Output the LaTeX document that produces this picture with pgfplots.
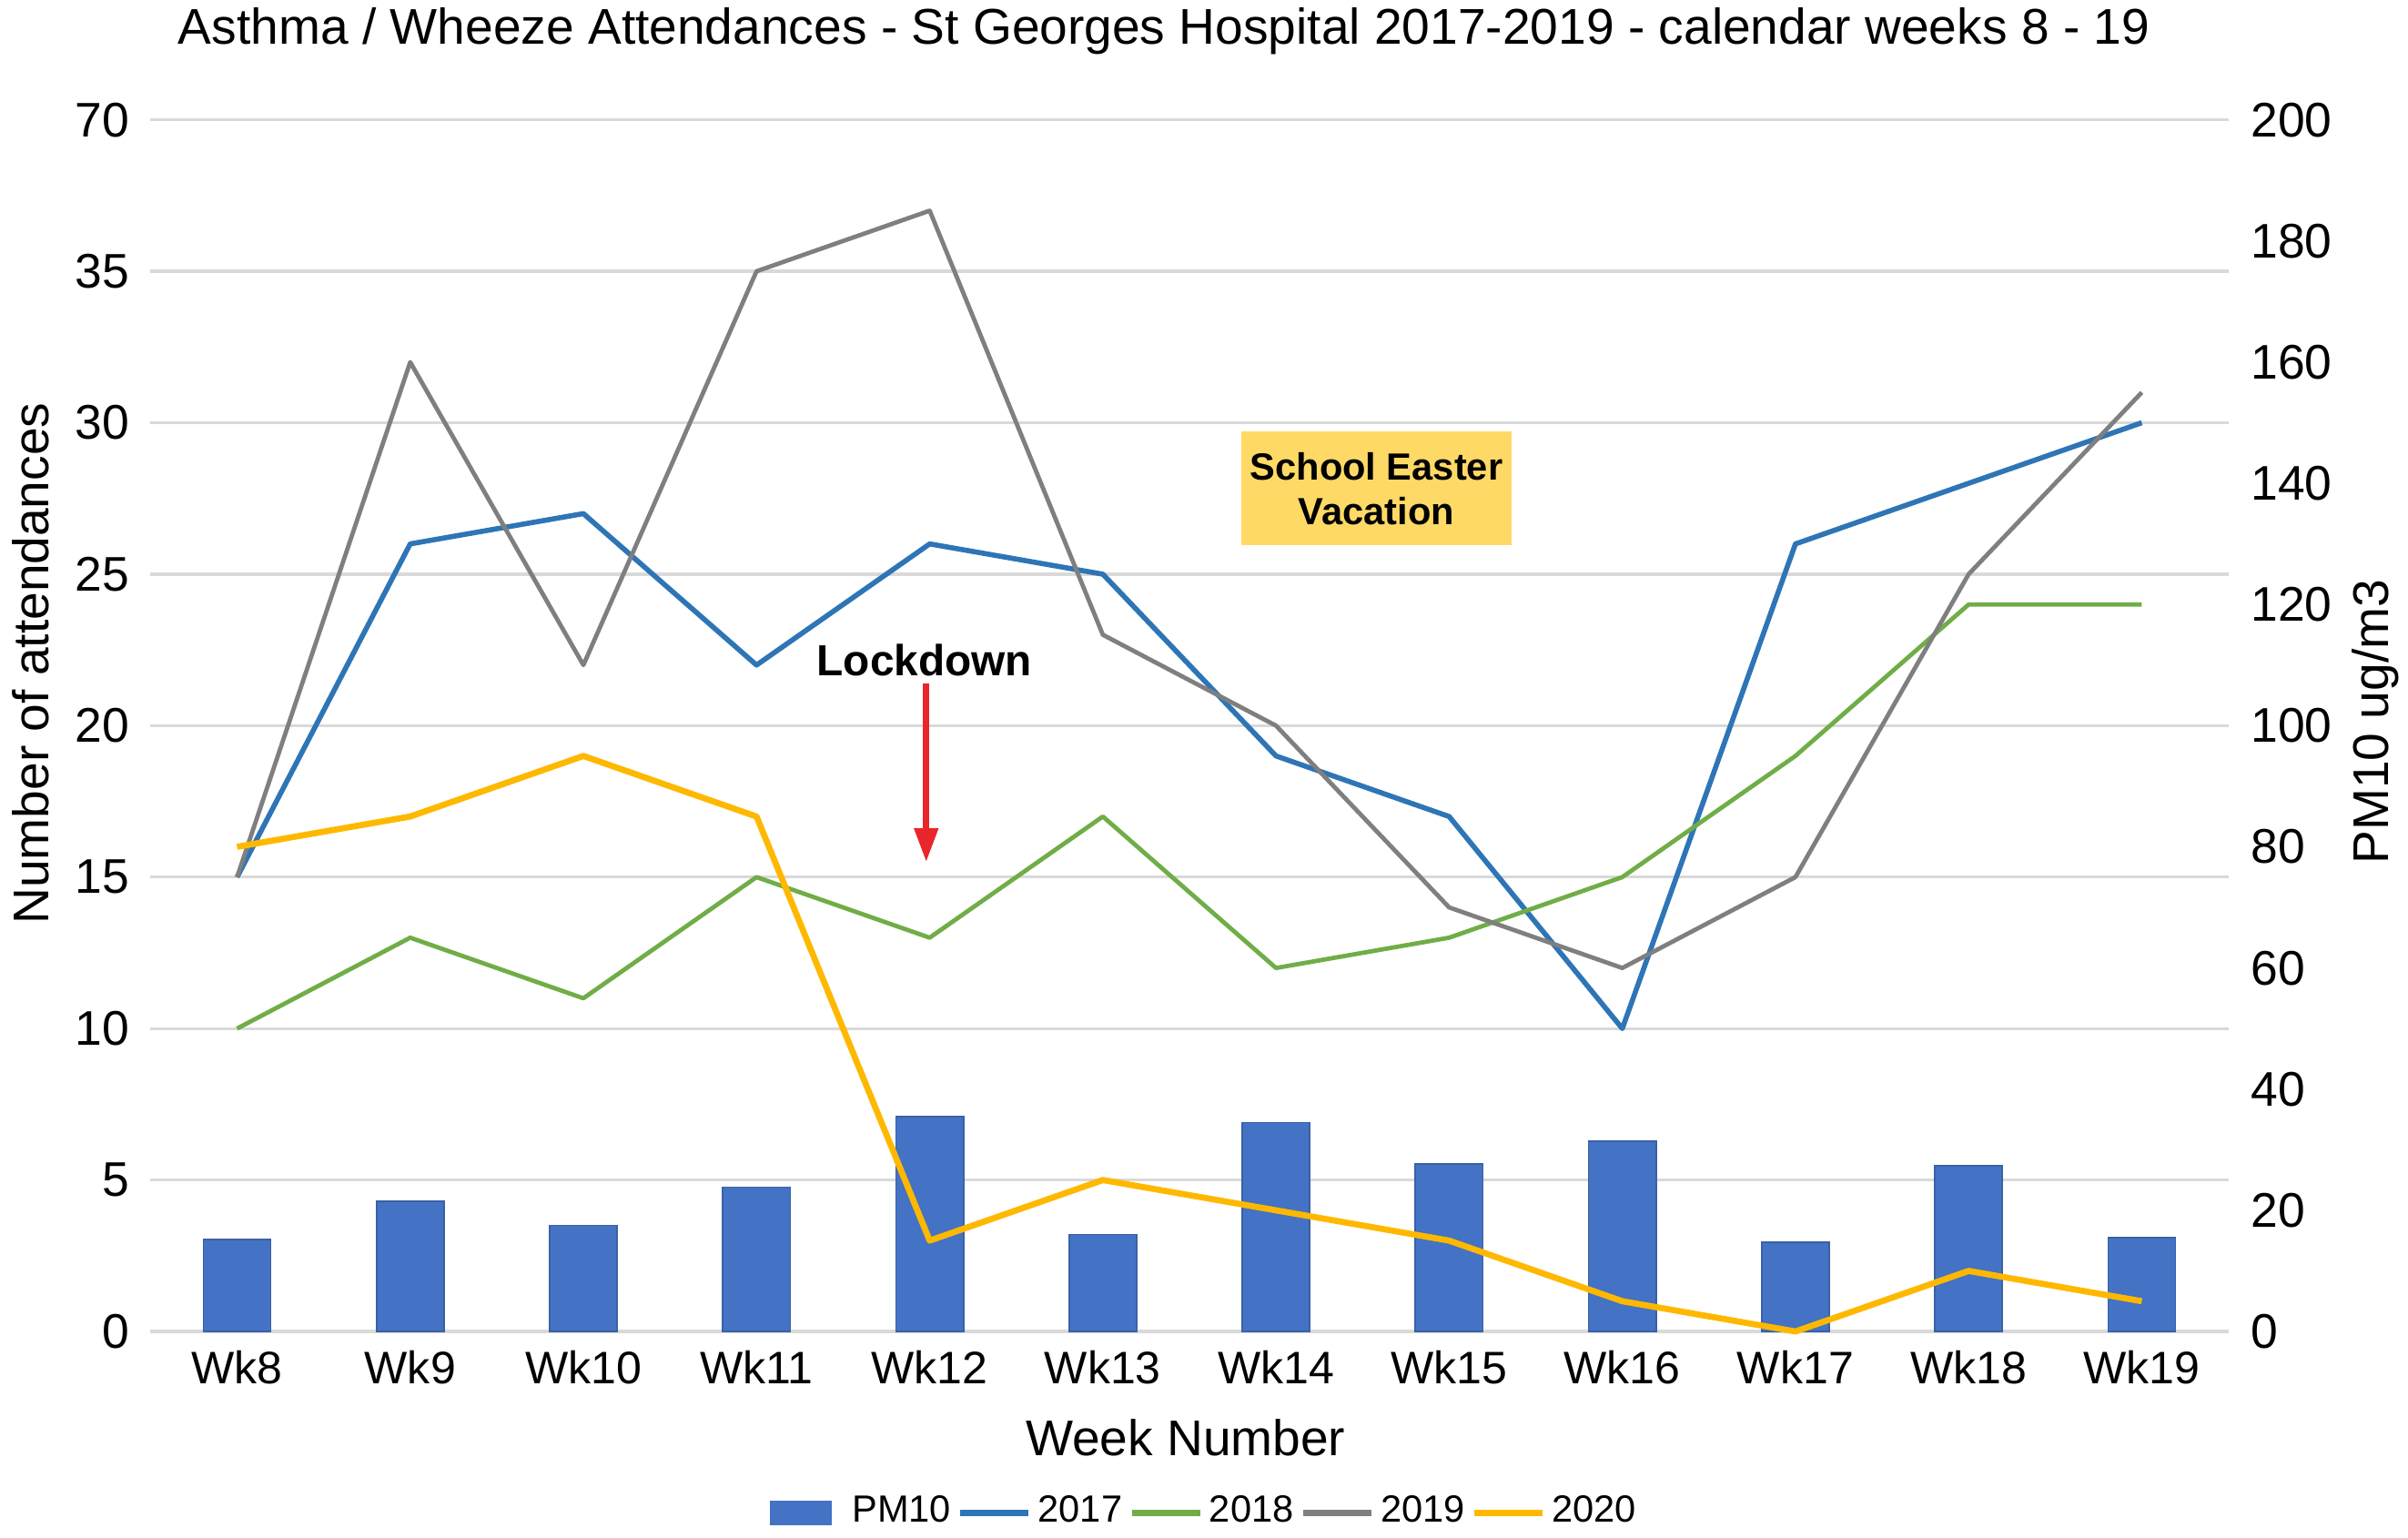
\documentclass[border=0pt]{standalone}
\usepackage{fontspec}
\setmainfont{Liberation Sans}
\usepackage{pgfplots}
\usepackage{pgfplotstable}
\pgfplotsset{compat=1.18}
\usetikzlibrary{arrows.meta}

\definecolor{barblue}{HTML}{4472C4}
\definecolor{c2017}{HTML}{2E75B6}
\definecolor{c2018}{HTML}{70AD47}
\definecolor{c2019}{HTML}{7F7F7F}
\definecolor{c2020}{HTML}{FFB800}
\definecolor{gridgrey}{HTML}{D9D9D9}
\definecolor{boxyellow}{HTML}{FFD966}
\definecolor{arrowred}{HTML}{E8262B}

\pgfplotstableread{
x pm a17 a18 a19 a20
0 15.2 15 10 15 16
1 21.5 26 13 32 17
2 17.5 27 11 22 19
3 23.8 22 15 35 17
4 35.5 26 13 37 3
5 16.0 25 17 23 5
6 34.5 19 12 20 4
7 27.6 17 13 14 3
8 31.4 10 15 12 1
9 14.7 26 19 15 0
10 27.4 28 24 25 2
11 15.5 30 24 31 1
}\data

\begin{document}
\begin{tikzpicture}
\useasboundingbox (-29.4pt,-40.2pt) rectangle (441pt,260.1pt);
% bars on right axis (PM10)
\begin{axis}[
  at={(0pt,0pt)}, anchor=south west,
  scale only axis, width=405.9pt, height=236.7pt,
  xmin=-0.5, xmax=11.5, ymin=0, ymax=200,
  xtick=\empty,
  ytick={0,20,...,200}, yticklabel pos=right,
  extra y ticks={0,25,...,200}, extra y tick labels={},
  extra y tick style={grid=major},
  major grid style={draw=gridgrey, line width=0.6pt},
  axis line style={draw=none}, tick style={draw=none}, major tick length=0pt,
  /pgf/number format/assume math mode=true,
  yticklabel style={font=\fontsize{9.5}{11}\selectfont, inner sep=0pt, xshift=4.2pt},
  clip=false,
]
\addplot[ybar, bar width=0.39, fill=barblue, draw=barblue!85!black, line width=0.3pt] table[x=x, y=pm] {\data};
\end{axis}
% lines on left axis
\begin{axis}[
  at={(0pt,0pt)}, anchor=south west,
  scale only axis, width=405.9pt, height=236.7pt,
  xmin=-0.5, xmax=11.5, ymin=0, ymax=40,
  xtick={0,...,11},
  xticklabels={Wk8,Wk9,Wk10,Wk11,Wk12,Wk13,Wk14,Wk15,Wk16,Wk17,Wk18,Wk19},
  ytick={0,5,...,40},
  yticklabels={0,5,10,15,20,25,30,35,70},
  axis line style={draw=none}, tick style={draw=none}, major tick length=0pt,
  /pgf/number format/assume math mode=true,
  yticklabel style={font=\fontsize{9.5}{11}\selectfont, inner sep=0pt, xshift=-3.9pt},
  xticklabel style={font=\fontsize{8.9}{10}\selectfont, inner sep=0pt, yshift=-3.6pt},
  clip=false,
  legend columns=5,
  legend style={draw=none, fill=none, at={(0.508,-0.1496)}, anchor=center,
    font=\fontsize{7.4}{8}\selectfont, inner sep=0pt,
    nodes={inner xsep=1.2pt},
    /tikz/every even column/.append style={column sep=0pt}},
  legend image code/.code={\draw[#1, line width=1.3pt] (0pt,0pt) -- (13.3pt,0pt);},
]
\addlegendimage{legend image code/.code={\fill[barblue] (0pt,-2.2pt) rectangle (11.7pt,2.2pt); \path (14.5pt,0pt);}}
\addlegendentry{PM10}
\addplot[c2017, line width=1.0pt, line join=round] table[x=x, y=a17] {\data};
\addlegendentry{2017}
\addplot[c2018, line width=0.85pt, line join=round] table[x=x, y=a18] {\data};
\addlegendentry{2018}
\addplot[c2019, line width=0.85pt, line join=round] table[x=x, y=a19] {\data};
\addlegendentry{2019}
\addplot[c2020, line width=1.2pt, line join=round] table[x=x, y=a20] {\data};
\addlegendentry{2020}

\draw[line width=1.2pt, arrowred, -{Triangle[width=4.5pt,length=6.6pt]}] (axis cs:3.98,21.4) -- (axis cs:3.98,15.5);
\node[font=\bfseries\fontsize{8.5}{10}\selectfont] at (axis cs:3.97,22.15) {Lockdown};
\node[fill=boxyellow, minimum width=52.8pt, minimum height=22.2pt, inner sep=0pt, align=center,
  font=\bfseries\fontsize{7.4}{8.7}\selectfont] at (axis cs:6.58,27.83) {School Easter\\Vacation};
\end{axis}
\node[anchor=base, font=\fontsize{9.8}{12}\selectfont] at (198pt,251.4pt) {Asthma / Wheeze Attendances - St Georges Hospital 2017-2019 - calendar weeks 8 - 19};
\node[anchor=base, font=\fontsize{9.8}{12}\selectfont] at (202.2pt,-24.3pt) {Week Number};
\node[rotate=90, font=\fontsize{9.8}{12}\selectfont] at (-23.4pt,130.5pt) {Number of attendances};
\node[rotate=90, font=\fontsize{9.8}{12}\selectfont] at (434.7pt,119.1pt) {PM10 ug/m3};
\end{tikzpicture}
\end{document}
